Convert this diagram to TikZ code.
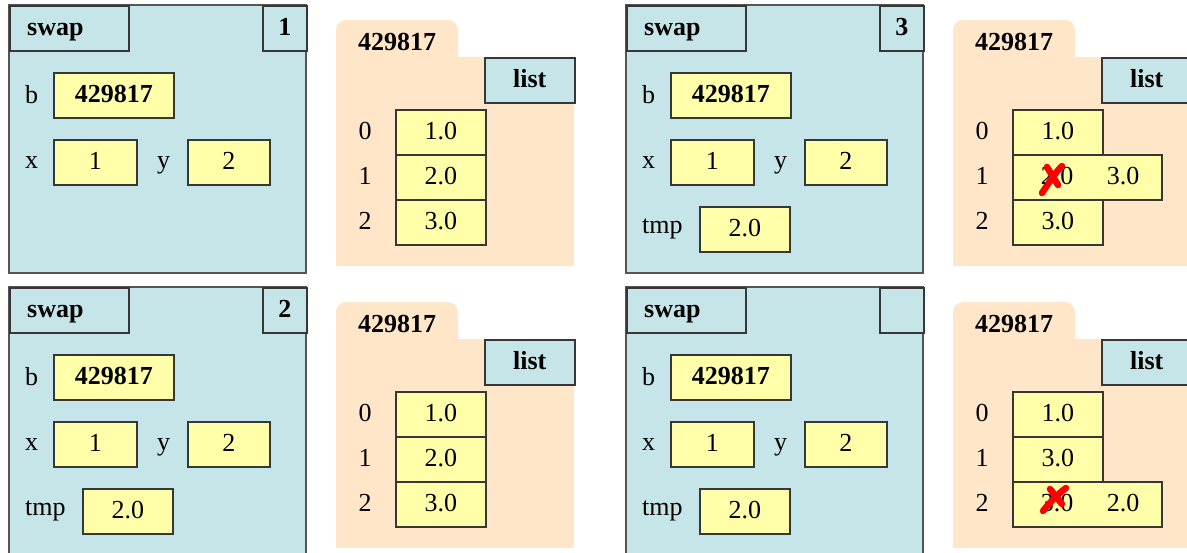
\documentclass[tikz,border=0pt]{standalone}
\usepackage{fontspec}
\setmainfont{Liberation Serif}

\definecolor{framebg}{RGB}{198,229,233}
\definecolor{objbg}{RGB}{255,230,200}
\definecolor{cellbg}{RGB}{255,255,170}
\definecolor{edgegray}{RGB}{55,55,55}
\definecolor{crossred}{RGB}{250,0,0}

\tikzset{
  every node/.style={font=\fontsize{26}{30}\selectfont},
  frameouter/.style={fill=framebg, draw=edgegray!85, line width=1.3pt},
  tabbox/.style={draw=edgegray, fill=framebg, line width=1.5pt, rectangle,
    anchor=north west, inner sep=0pt, text height=17pt, text depth=2pt},
  cell/.style={draw=edgegray, fill=cellbg, line width=1.5pt, rectangle,
    anchor=north west, inner sep=0pt, minimum height=45pt,
    text height=17pt, text depth=2pt},
  varlabel/.style={anchor=base west, inner sep=0pt},
  idxlabel/.style={anchor=base, inner sep=0pt},
  boldlabel/.style={inner sep=0pt, font=\fontsize{26}{30}\selectfont\bfseries},
  crossstroke/.style={draw=crossred, line width=6.5pt, line cap=round},
}

% call frame of swap: #1 name prefix, #2/#3 top-left corner, #4 frame number, #5 height
\newcommand\callframe[5]{%
  \begin{scope}[shift={(#2,#3)}]
    \draw[frameouter] (0,0) rectangle (297,#5);
    \node[tabbox, minimum width=119pt, minimum height=45pt] (#1tab) at (0,0) {};
    \node[boldlabel, anchor=base west] (#1name) at (18,30) {swap};
    \node[tabbox, minimum width=44pt, minimum height=45pt] (#1num) at (253,0) {\textbf{#4}};
    \node[varlabel] (#1bl) at (16,98) {b};
    \node[cell, minimum width=120pt] (#1b) at (44,67) {\textbf{429817}};
    \node[varlabel] (#1xl) at (16,163) {x};
    \node[cell, minimum width=83pt] (#1x) at (44,134) {1};
    \node[varlabel] (#1yl) at (148,163) {y};
    \node[cell, minimum width=82pt] (#1y) at (178,134) {2};
  \end{scope}}

% tmp variable inside a call frame
\newcommand\tmpvar[3]{%
  \begin{scope}[shift={(#2,#3)}]
    \node[varlabel] (#1tl) at (16,228) {tmp};
    \node[cell, minimum width=90pt] (#1t) at (73,201) {2.0};
  \end{scope}}

% list object in the heap: folder, id tab, type box and indices
\newcommand\listobj[3]{%
  \begin{scope}[shift={(#2,#3)}]
    \fill[objbg, rounded corners=10pt] (0,0) rectangle (122,60);
    \fill[objbg] (0,37) rectangle (238,246);
    \node[boldlabel, anchor=base] (#1id) at (61,30) {429817};
    \node[tabbox, minimum width=90pt, minimum height=45pt] (#1type) at (148,37) {\textbf{list}};
    \node[idxlabel] (#1i0) at (29,119) {0};
    \node[idxlabel] (#1i1) at (29,164) {1};
    \node[idxlabel] (#1i2) at (29,209) {2};
  \end{scope}}

\begin{document}
\begin{tikzpicture}[x=1pt, y=-1pt]
  \useasboundingbox (0,0) rectangle (1187,552);
  \clip (0,0) rectangle (1187,552);

  % ---- step 1 ----
  \callframe{fa}{9}{5}{1}{268}
  \listobj{la}{336}{20}
  \begin{scope}[shift={(336,20)}]
    \node[cell, minimum width=90pt] (la0) at (59,89) {1.0};
    \node[cell, minimum width=90pt] (la1) at (59,134) {2.0};
    \node[cell, minimum width=90pt] (la2) at (59,179) {3.0};
  \end{scope}

  % ---- step 2 ----
  \callframe{fb}{9}{287}{2}{272}
  \tmpvar{fb}{9}{287}
  \listobj{lb}{336}{302}
  \begin{scope}[shift={(336,302)}]
    \node[cell, minimum width=90pt] (lb0) at (59,89) {1.0};
    \node[cell, minimum width=90pt] (lb1) at (59,134) {2.0};
    \node[cell, minimum width=90pt] (lb2) at (59,179) {3.0};
  \end{scope}

  % ---- step 3 ----
  \callframe{fc}{626}{5}{3}{268}
  \tmpvar{fc}{626}{5}
  \listobj{lc}{953}{20}
  \begin{scope}[shift={(953,20)}]
    \node[cell, minimum width=90pt] (lc0) at (59,89) {1.0};
    \node[cell, minimum width=90pt] (lc2) at (59,179) {3.0};
    \node[cell, minimum width=149pt] (lc1) at (59,134) {};
    \node[idxlabel] (lc1old) at (104,164) {2.0};
    \node[idxlabel] (lc1new) at (170,164) {3.0};
  \end{scope}
  % old value crossed out
  \draw[crossstroke] (1042,193) .. controls (1050,181) and (1055,173) .. (1062,166);
  \draw[crossstroke] (1047,167) -- (1058,185);

  % ---- step 4 ----
  \callframe{fd}{626}{287}{}{272}
  \tmpvar{fd}{626}{287}
  \listobj{ld}{953}{302}
  \begin{scope}[shift={(953,302)}]
    \node[cell, minimum width=90pt] (ld0) at (59,89) {1.0};
    \node[cell, minimum width=90pt] (ld1) at (59,134) {3.0};
    \node[cell, minimum width=149pt] (ld2) at (59,179) {};
    \node[idxlabel] (ld2old) at (104,209) {3.0};
    \node[idxlabel] (ld2new) at (170,209) {2.0};
  \end{scope}
  % old value crossed out
  \draw[crossstroke] (1043,511) .. controls (1051,501) and (1058,494) .. (1066,488);
  \draw[crossstroke] (1050,489) -- (1062,504);
\end{tikzpicture}
\end{document}
